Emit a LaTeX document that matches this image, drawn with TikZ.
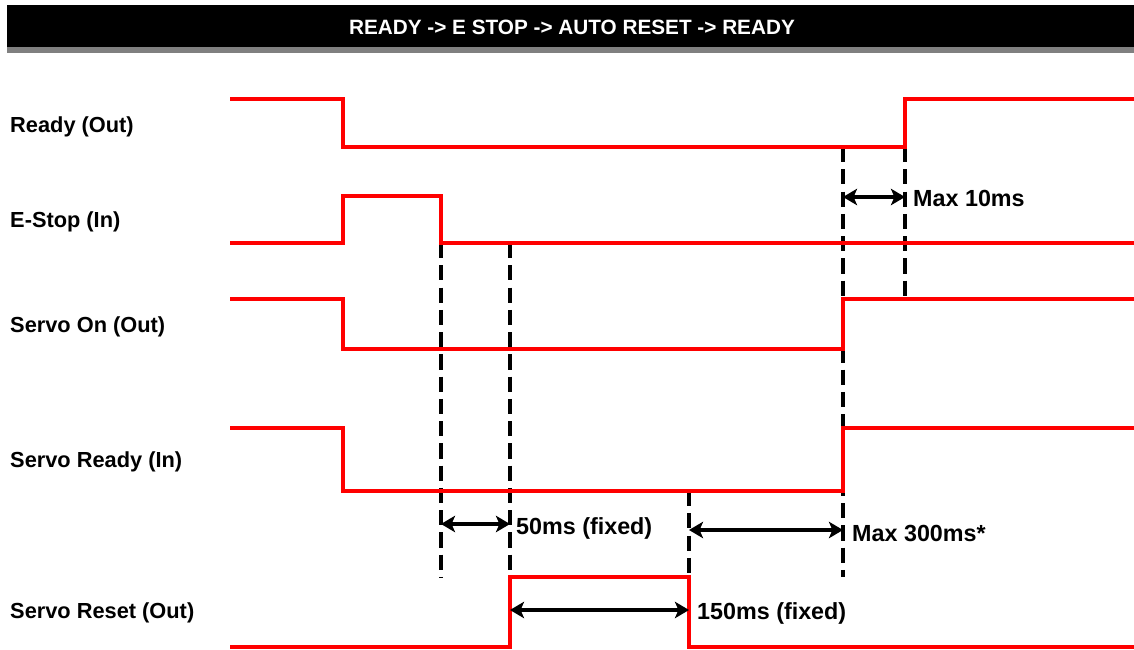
\documentclass[tikz,border=0pt]{standalone}
\usepackage{fontspec}
\setmainfont{Liberation Sans}
\usepackage{tikz}
\usetikzlibrary{arrows.meta}

\tikzset{
	sig/.style = {red, line width = 2.6pt},
	guide/.style = {black, line width = 2.6pt, dash pattern = on 13pt off 6pt},
	span/.style = {black, line width = 2.6pt, {Stealth[length = 12pt, width = 14pt, inset = 3pt]}-{Stealth[length = 12pt, width = 14pt, inset = 3pt]}},
	lbl/.style = {right, inner sep = 0pt, font = \bfseries\fontsize{18.6}{20}\selectfont},
	note/.style = {right, inner sep = 0pt, font = \bfseries\fontsize{19.9}{22}\selectfont}
}

\begin{document}
\begin{tikzpicture}[x = 0.03cm, y = -0.03cm]
		
		\useasboundingbox (0, 0) rectangle (1134, 650);
		
		% title bar
		\fill[black!50] (7, 45) rectangle (1134, 53);
		\fill[black] (7, 5) rectangle (1134, 47);
		\node[white, font = \bfseries\fontsize{17.7}{20}\selectfont] (title) at (572, 27) {READY -> E STOP -> AUTO RESET -> READY};
		
		% signal names
		\node[lbl] (rdy) at (10, 127) {Ready (Out)};
		\node[lbl] (estop) at (10, 222) {E-Stop (In)};
		\node[lbl] (svon) at (10, 327) {Servo On (Out)};
		\node[lbl] (svrdy) at (10, 462) {Servo Ready (In)};
		\node[lbl] (svrst) at (10, 613) {Servo Reset (Out)};
		
		% guide lines
		\draw[guide] (441, 243) -- (441, 577);
		\draw[guide] (510, 243) -- (510, 577);
		\draw[guide] (689, 491) -- (689, 577);
		\draw[guide] (843, 147) -- (843, 577);
		\draw[guide] (905, 147) -- (905, 299);
		
		% waveforms
		\draw[sig] (230, 99) -- (343, 99) -- (343, 147) -- (905, 147) -- (905, 99) -- (1134, 99);
		\draw[sig] (230, 243) -- (343, 243) -- (343, 196) -- (441, 196) -- (441, 243) -- (1134, 243);
		\draw[sig] (230, 299) -- (343, 299) -- (343, 349) -- (843, 349) -- (843, 299) -- (1134, 299);
		\draw[sig] (230, 428) -- (343, 428) -- (343, 491) -- (843, 491) -- (843, 428) -- (1134, 428);
		\draw[sig] (230, 647) -- (510, 647) -- (510, 577) -- (689, 577) -- (689, 647) -- (1134, 647);
		
		% timings
		\coordinate (t10a) at (843, 197);
		\coordinate (t10b) at (905, 197);
		\draw[span] (t10a) -- (t10b);
		\node[note] (t10) at (913, 198) {Max 10ms};
		
		\coordinate (t50a) at (441, 524);
		\coordinate (t50b) at (510, 524);
		\draw[span] (t50a) -- (t50b);
		\node[note] (t50) at (516, 528) {50ms (fixed)};
		
		\coordinate (t300a) at (689, 530);
		\coordinate (t300b) at (843, 530);
		\draw[span] (t300a) -- (t300b);
		\node[note] (t300) at (852, 533) {Max 300ms*};
		
		\coordinate (t150a) at (510, 610);
		\coordinate (t150b) at (689, 610);
		\draw[span] (t150a) -- (t150b);
		\node[note] (t150) at (697, 613) {150ms (fixed)};
	\end{tikzpicture}
\end{document}
